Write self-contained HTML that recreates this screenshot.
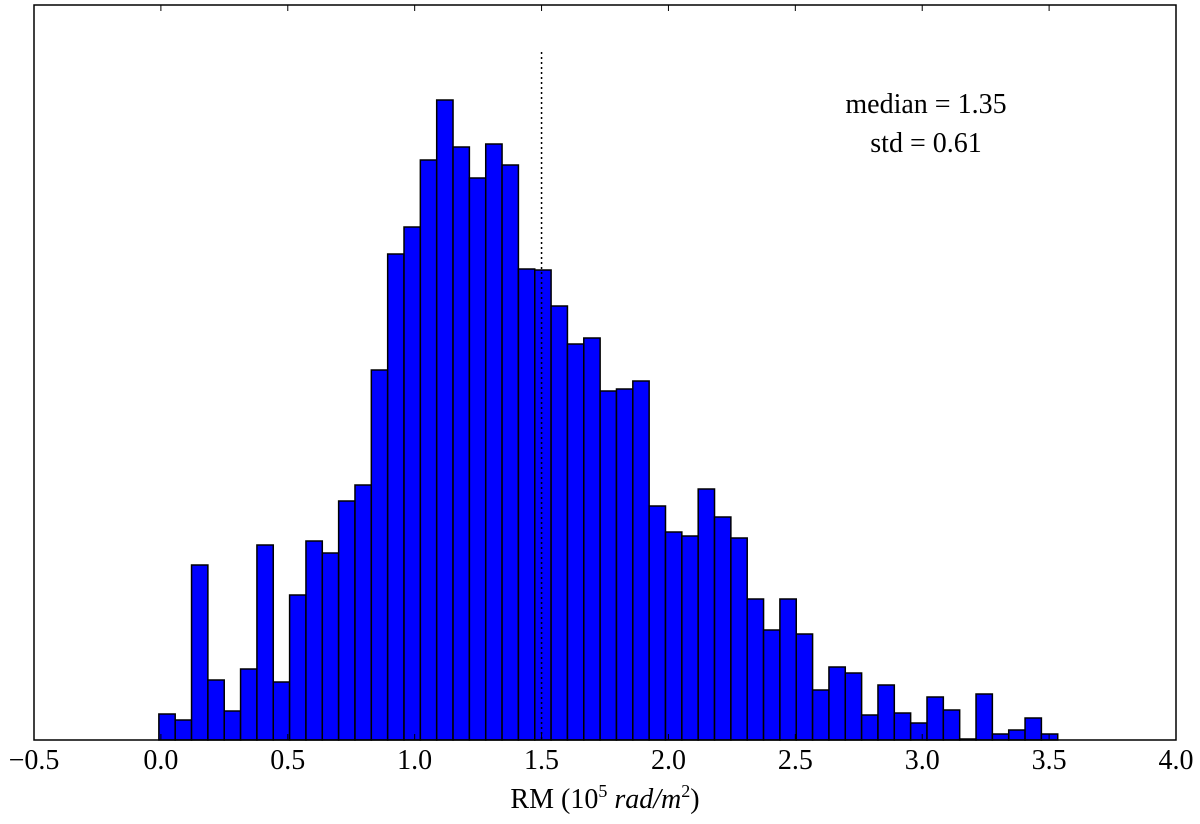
<!DOCTYPE html>
<html><head><meta charset="utf-8"><style>
body{margin:0;background:#fff;}
svg{display:block;font-family:"Liberation Serif","DejaVu Serif",serif;}
</style></head><body>
<svg id="chart" width="1200" height="824" viewBox="0 0 1200 824" xmlns="http://www.w3.org/2000/svg">
<g id="bars"></g>
<line id="median" stroke="#000" stroke-width="1.5" stroke-dasharray="2,3"/>
<rect x="34" y="5" width="1142" height="735" fill="none" stroke="#000" stroke-width="1.5"/>
<g id="ticks"></g>
<text x="605" y="808" font-size="28" text-anchor="middle">RM (10<tspan font-size="18" dy="-11">5</tspan><tspan dy="11" font-style="italic"> rad/m</tspan><tspan font-size="18" dy="-11">2</tspan><tspan dy="11">)</tspan></text>
<text x="926" y="113" font-size="28" text-anchor="middle">median = 1.35</text>
<text x="926" y="152" font-size="28" text-anchor="middle">std = 0.61</text>
</svg>
<script>
const binStart = -0.008;
const binWidth = 0.0644;
const counts = [26,20,175,60,29,71,195,58,145,199,187,239,255,370,486,513,580,640,593,562,596,575,471,470,434,396,402,349,351,359,234,208,204,251,223,202,141,110,141,106,50,73,67,25,55,27,17,43,30,1,46,6,10,22,6];
const tickValues = [-0.5,0.0,0.5,1.0,1.5,2.0,2.5,3.0,3.5,4.0];
const tickLabels = ["\u22120.5","0.0","0.5","1.0","1.5","2.0","2.5","3.0","3.5","4.0"];
const medianLineX = 1.5;
const xMin=-0.5,xMax=4.0,yMax=735;
const L=34,R=1176,T=5,B=740;
const sx=v=>L+(v-xMin)/(xMax-xMin)*(R-L);
const sy=v=>B-v/yMax*(B-T);
const NS="http://www.w3.org/2000/svg";
const bars=document.getElementById('bars');
counts.forEach((c,i)=>{
  const r=document.createElementNS(NS,'rect');
  const x0=sx(binStart+i*binWidth),x1=sx(binStart+(i+1)*binWidth);
  r.setAttribute('x',x0);r.setAttribute('width',x1-x0);
  r.setAttribute('y',sy(c));r.setAttribute('height',B-sy(c));
  r.setAttribute('fill','#0000ff');r.setAttribute('stroke','#000');r.setAttribute('stroke-width','1.5');
  
  
  bars.appendChild(r);
});
const m=document.getElementById('median');
m.setAttribute('x1',sx(medianLineX));m.setAttribute('x2',sx(medianLineX));
m.setAttribute('y1',52);m.setAttribute('y2',B);
const tg=document.getElementById('ticks');
tickValues.forEach((v,i)=>{
  const x=sx(v);
  [[B,B-6],[T,T+6]].forEach(([a,b])=>{
    const l=document.createElementNS(NS,'line');
    l.setAttribute('x1',x);l.setAttribute('x2',x);l.setAttribute('y1',a);l.setAttribute('y2',b);
    l.setAttribute('stroke','#000');l.setAttribute('stroke-width','1');
    
    
    tg.appendChild(l);
  });
  const t=document.createElementNS(NS,'text');
  t.setAttribute('x',x);t.setAttribute('y',769);t.setAttribute('font-size','28');t.setAttribute('text-anchor','middle');
  t.textContent=tickLabels[i];
  
  
  tg.appendChild(t);
});
</script>
</body></html>
